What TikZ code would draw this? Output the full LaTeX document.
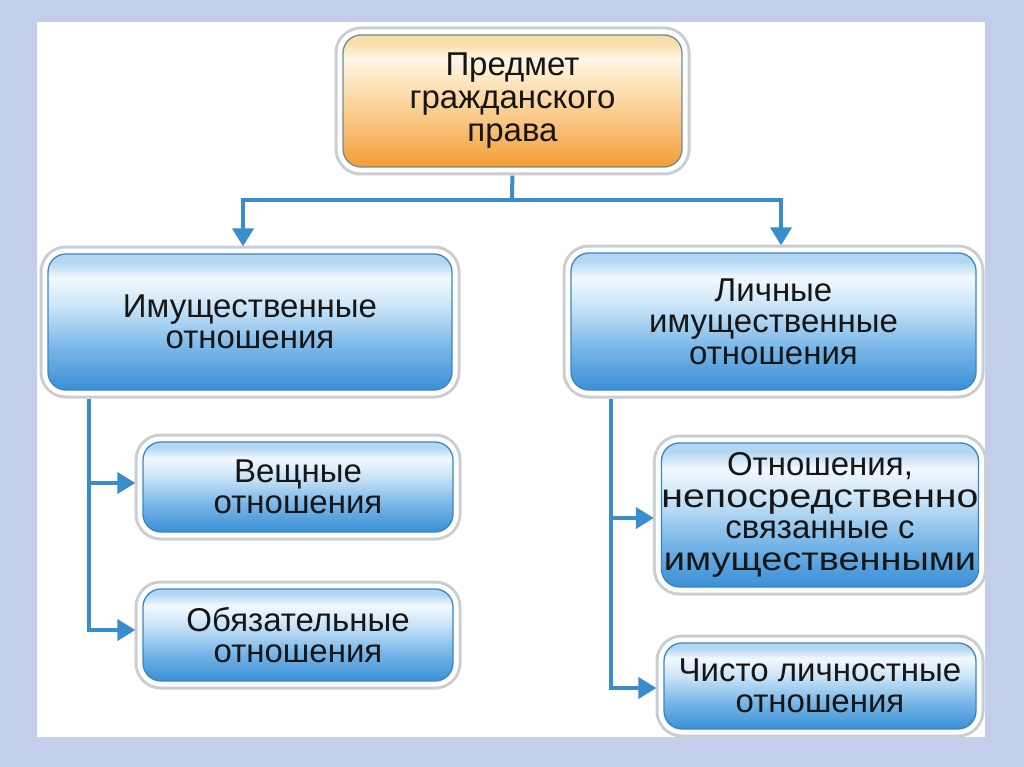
\documentclass[tikz,border=0pt]{standalone}
\usepackage{fontspec}
\usepackage{graphicx}
\setmainfont{Liberation Sans}
\usetikzlibrary{arrows.meta}
\definecolor{framec}{HTML}{C2CEEA}
\definecolor{linec}{HTML}{3A8DCD}
\definecolor{bluebd}{HTML}{3A86C4}
\definecolor{rimc}{HTML}{CACED3}
\definecolor{orbd}{HTML}{6F8C9C}
\definecolor{txt}{HTML}{161616}
\definecolor{ba}{HTML}{3B8FD5}
\definecolor{bb}{HTML}{76B5E7}
\definecolor{bc}{HTML}{CBE5F8}
\definecolor{bd}{HTML}{F2F9FE}
\definecolor{be}{HTML}{B3D7F2}
\definecolor{oa}{HTML}{F29E34}
\definecolor{ob}{HTML}{F8C078}
\definecolor{oc}{HTML}{FDE3B8}
\definecolor{od}{HTML}{FFF6E6}
\definecolor{oe}{HTML}{FBDDA8}
\pgfdeclareverticalshading{blueshade}{100bp}{color(0bp)=(ba); color(25bp)=(ba); color(40bp)=(bb); color(56bp)=(bc); color(66bp)=(bd); color(72bp)=(be); color(75bp)=(be); color(100bp)=(be)}
\pgfdeclareverticalshading{orangeshade}{100bp}{color(0bp)=(oa); color(25bp)=(oa); color(40bp)=(ob); color(56bp)=(oc); color(66bp)=(od); color(72bp)=(oe); color(75bp)=(oe); color(100bp)=(oe)}
\tikzset{
  boxbase/.style={rounded corners=18pt, align=center, inner sep=0pt,
    font=\fontsize{33}{31.5}\selectfont, text=txt, line width=1.3pt,
    preaction={draw=rimc, line width=17pt},
    preaction={draw=white, line width=11pt}},
  bluebox/.style={boxbase, draw=bluebd, shade, shading=blueshade},
  orangebox/.style={boxbase, draw=orbd, shade, shading=orangeshade},
  ln/.style={draw=linec, line width=4pt},
  arr/.style={ln, -{Triangle[length=18pt,width=21pt]}}
}
\begin{document}
\begin{tikzpicture}[x=1pt,y=-1pt]
\fill[framec] (0,0) rectangle (1024,767);
\fill[white] (37,22) rectangle (985,737);
\node[orangebox, minimum width=339pt, minimum height=132pt] (top) at (512.5,101) {Предмет\\[1.5pt]гражданского\\[1.5pt]права};
\node[bluebox, minimum width=404pt, minimum height=136pt] (L1) at (250,322) {Имущественные\\отношения};
\node[bluebox, minimum width=405pt, minimum height=137pt] (R1) at (773.5,321.5) {Личные\\имущественные\\отношения};
\node[bluebox, minimum width=310pt, minimum height=90pt] (V) at (298,487) {Вещные\\отношения};
\node[bluebox, minimum width=310pt, minimum height=92pt] (O) at (298,635) {Обязательные\\отношения};
\node[bluebox, minimum width=312pt, minimum height=144pt] (N) at (820,515) {Отношения,\\\scalebox{1.19}[1]{непосредственно}\\связанные с\\\scalebox{1.15}[1]{имущественными}};
\node[bluebox, minimum width=312pt, minimum height=86pt] (C) at (820,686) {Чисто личностные\\отношения};
\coordinate (j) at (512,200);
\draw[ln, shorten <=8pt] (top.south) -- (j);
\draw[arr, shorten >=7pt] (j) -| ([xshift=-7pt]L1.north);
\draw[arr, shorten >=7pt] (j) -| ([xshift=7.5pt]R1.north);
\coordinate (lb) at ([xshift=42pt]L1.south west);
\draw[arr, shorten <=8pt, shorten >=7pt] (lb) |- ([yshift=4pt]V.west);
\draw[arr, shorten <=8pt, shorten >=7pt] (lb) |- ([yshift=5pt]O.west);
\coordinate (rb) at ([xshift=41pt]R1.south west);
\draw[arr, shorten <=8pt, shorten >=7pt] (rb) |- ([yshift=-3pt]N.west);
\draw[arr, shorten <=8pt, shorten >=7pt] (rb) |- ([yshift=-2pt]C.west);
\end{tikzpicture}
\end{document}
